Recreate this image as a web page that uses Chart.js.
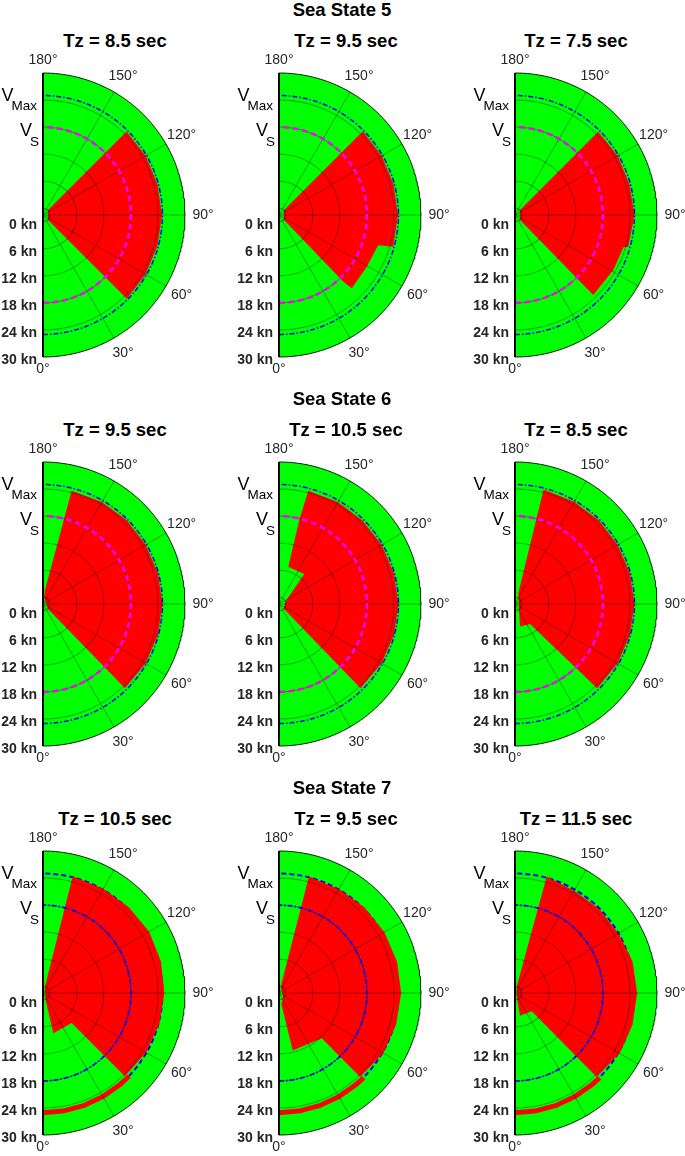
<!DOCTYPE html>
<html>
<head>
<meta charset="utf-8">
<script src="https://cdn.jsdelivr.net/npm/chart.js@4.4.1/dist/chart.umd.min.js"></script>
<style>
  body { margin: 0; background: #fff; width: 685px; height: 1156px; overflow: hidden;
         font-family: "Liberation Sans", Arial, sans-serif; }
  #page { position: relative; width: 685px; height: 1156px; }
  .panel { position: absolute; }
  .title { position: absolute; font-weight: bold; font-size: 18.5px; color: #000;
           transform: translate(-50%, -50%); white-space: nowrap; }
</style>
</head>
<body>
<div id="page"></div>
<script>
// Sea states (rows) and zero-crossing periods (columns)
const seaStates = [5, 6, 7];
const tzValues = [
  [8.5, 9.5, 7.5],
  [9.5, 10.5, 8.5],
  [10.5, 9.5, 11.5]
];
const angleTicks = [0, 30, 60, 90, 120, 150, 180];  // heading, deg
const speedTicks = [0, 6, 12, 18, 24, 30];          // kn
const speedMin = -1.5;
const speedMax = 30;
const vS = [18, 18, 18];     // service speed per sea state, kn
const vMax = [25, 25, 25];   // max speed per sea state, kn

// Unsafe zones (red), per panel a list of polygons of [heading deg, speed kn]
const redSS5 = [
  [[[45,0],[45,24.8],[60,24.8],[75,24.8],[90,24.9],[105,24.8],[120,24.8],[135,24.7],[135,0]]],
  [[[45,0],[44,19],[44.8,21.4],[59,21.1],[73,21.5],[74.5,24.8],[90,24.9],[105,24.8],[120,24.8],[135,24.8],[135,0]]],
  [[[45,0],[44.4,23.3],[60.8,23.5],[73.4,23.6],[74.4,24.6],[90,25],[105,24.8],[120,24.8],[135,24.6],[135,0]]]
];
const redSS6 = [
  [[[45,0],[44.2,24.6],[60,24.8],[75,24.9],[90,25],[105,24.9],[120,24.8],[135,24.8],[150,24.6],[165.8,24.4],[172,1.6],[170,0]]],
  [[[45,0],[44.1,24.5],[60,24.8],[75,24.9],[90,25],[105,24.9],[120,24.8],[135,24.7],[150,24.6],[165.5,24.45],[166.4,17.7],[166,7],[140,7.2],[110,0]]],
  [[[29,0.45],[12.4,3.6],[36.9,4.05],[44.3,24.6],[60,24.8],[75,24.9],[90,25],[105,24.9],[120,24.8],[135,24.8],[150,24.7],[166,24.7],[163,1]]]
];
const redSS7 = [
  [[[20,0.2],[14.5,7.7],[43.7,7.7],[44.5,24.4],[60,24.9],[75,25.2],[90,25.4],[105,25.6],[120,25.7],[135,25.4],[150,25.2],[165.7,25.2],[163,0]],
   [[0,24.5],[10,24.5],[20,24.5],[30,24.5],[40,24.5],[46,24.5],[46,25.6],[40,25.6],[30,25.6],[20,25.6],[10,25.6],[0,25.6]]],
  [[[40,0],[12,1],[13.4,11.6],[43.5,12.3],[44,24.4],[60,25.2],[75,25.4],[90,25.6],[105,25.6],[120,25.5],[135,25.3],[149.4,25.1],[165.6,25.2],[165,0]],
   [[0,24.5],[10,24.5],[20,24.5],[30,24.5],[40,24.5],[45,24.5],[45,25.6],[40,25.6],[30,25.6],[20,25.6],[10,25.6],[0,25.6]]],
  [[[19,0],[12.4,3.65],[42.4,4],[44.2,24.5],[60.3,25.3],[75,25.5],[90,25.6],[105,25.5],[119.2,25],[135,24.9],[149.5,24.7],[164.8,25.3],[165,0]],
   [[0,24.5],[10,24.5],[20,24.5],[30,24.5],[40,24.5],[45,24.5],[45,25.6],[40,25.6],[30,25.6],[20,25.6],[10,25.6],[0,25.6]]]
];
const redZones = [redSS5, redSS6, redSS7];

// layout of the page (px)
const PX = 142 / (speedMax - speedMin);   // px per kn
const CX = 43, CY = 215;                  // polar origin inside each panel
const PANEL_W = 236, PANEL_H = 389;
const titleX = [115, 346, 576];

function toXY(deg, kn) {
  const R = kn - speedMin;
  const a = deg * Math.PI / 180;
  return { x: R * Math.sin(a), y: -R * Math.cos(a) };
}
function arc(kn, from, to) {
  const pts = [];
  for (let a = from; a <= to; a += 1) pts.push(toXY(a, kn));
  return pts;
}
function line(data, color, width, dash) {
  return { data, showLine: true, fill: false, borderColor: color, borderWidth: width,
           borderDash: dash || [], pointRadius: 0, tension: 0 };
}
function shape(data, color) {
  return { data, showLine: true, fill: 'shape', backgroundColor: color,
           borderColor: 'rgba(0,0,0,0)', borderWidth: 0, pointRadius: 0, tension: 0 };
}

const labelPlugin = {
  id: 'polarLabels',
  afterDraw(chart) {
    const { ctx, scales: { x, y } } = chart;
    const px = p => [x.getPixelForValue(p.x), y.getPixelForValue(p.y)];
    const [ox, oy] = px({ x: 0, y: 0 });
    const row = chart.options.plugins.polarLabels.row;
    ctx.save();
    ctx.fillStyle = '#262626';
    ctx.textBaseline = 'middle';
    ctx.textAlign = 'center';
    ctx.font = '14px "Liberation Sans", Arial, sans-serif';
    angleTicks.forEach(a => {
      const r = (a === 0 || a === 180) ? 32.8 : 34;
      const [lx, ly] = px(toXY(a, r));
      ctx.fillText(a + '°', lx, ly);
    });
    ctx.textAlign = 'right';
    ctx.font = 'bold 14px "Liberation Sans", Arial, sans-serif';
    speedTicks.forEach(s => {
      const ly = y.getPixelForValue(-(s - speedMin)) + 3;
      ctx.fillText(s + ' kn', ox - 6, ly);
    });
    // speed markers on the left
    ctx.fillStyle = '#000';
    const yMax = y.getPixelForValue(vMax[row] - speedMin);
    ctx.font = '13.5px "Liberation Sans", Arial, sans-serif';
    const wMax = ctx.measureText('Max').width;
    ctx.fillText('Max', ox - 6, yMax + 11);
    ctx.font = '18px "Liberation Sans", Arial, sans-serif';
    ctx.fillText('V', ox - 6 - wMax + 2, yMax);
    const ys = y.getPixelForValue(vS[row] - speedMin);
    ctx.font = '13.5px "Liberation Sans", Arial, sans-serif';
    const wS = ctx.measureText('S').width;
    ctx.fillText('S', ox - 4, ys + 15);
    ctx.font = '18px "Liberation Sans", Arial, sans-serif';
    ctx.fillText('V', ox - 4 - wS + 2, ys + 4);
    ctx.restore();
  }
};

const page = document.getElementById('page');

seaStates.forEach((ss, row) => {
  const t = document.createElement('div');
  t.className = 'title';
  t.style.left = '342px';
  t.style.top = (10 + row * PANEL_H) + 'px';
  t.textContent = 'Sea State ' + ss;
  page.appendChild(t);

  tzValues[row].forEach((tz, col) => {
    const tt = document.createElement('div');
    tt.className = 'title';
    tt.style.left = titleX[col] + 'px';
    tt.style.top = (41 + row * PANEL_H) + 'px';
    tt.textContent = 'Tz = ' + tz + ' sec';
    page.appendChild(tt);

    const left = col * PANEL_W, top = row * PANEL_H;
    const w = Math.min(PANEL_W, 685 - left), h = Math.min(PANEL_H, 1156 - top);
    const cv = document.createElement('canvas');
    cv.className = 'panel';
    cv.width = w; cv.height = h;
    cv.style.left = left + 'px'; cv.style.top = top + 'px';
    cv.style.width = w + 'px'; cv.style.height = h + 'px';
    page.appendChild(cv);

    const sevenStyle = row === 2;
    const ds = [];
    // safe background half disc
    ds.push(shape([toXY(0, speedMin)].concat(arc(speedMax, 0, 180)), '#00ff00'));
    if (sevenStyle) ds.push(line(arc(vMax[row], 0, 180), '#0000ff', 2, [5, 3]));
    redZones[row][col].forEach(poly => {
      const pts = poly.map(p => toXY(p[0], p[1]));
      pts.push(pts[0]);
      ds.push(shape(pts, '#ff0000'));
    });
    // grid
    speedTicks.slice(0, -1).forEach(s => ds.push(line(arc(s, 0, 180), 'rgba(0,0,0,0.5)', 0.7)));
    angleTicks.forEach(a => ds.push(line([toXY(a, speedMin), toXY(a, speedMax)], 'rgba(0,0,0,0.5)', 0.7)));
    // speed lines
    if (sevenStyle) {
      ds.push(line(arc(vS[row], 0, 180), '#0000ff', 1.8, [5, 2, 1.5, 2]));
    } else {
      ds.push(line(arc(vS[row], 0, 180), '#ff00ff', 2.5, [6, 3.5]));
      ds.push(line(arc(vMax[row], 0, 180), '#0000ff', 1.5, [5, 2, 1.5, 2]));
    }
    // axes outline
    ds.push(line(arc(speedMax, 0, 180), '#000', 0.9));
    ds.push(line([toXY(180, speedMax), toXY(0, speedMax)], '#000', 2));
    ds.forEach((d, i) => { d.order = ds.length - i; });

    new Chart(cv.getContext('2d'), {
      type: 'scatter',
      data: { datasets: ds },
      options: {
        responsive: false,
        animation: false,
        devicePixelRatio: 1,
        events: [],
        layout: { padding: 0 },
        scales: {
          x: { type: 'linear', display: false, min: -CX / PX, max: (w - CX) / PX },
          y: { type: 'linear', display: false, min: -(h - CY) / PX, max: CY / PX }
        },
        plugins: {
          legend: { display: false },
          tooltip: { enabled: false },
          filler: { propagate: false },
          polarLabels: { row }
        }
      },
      plugins: [labelPlugin]
    });
  });
});
</script>
</body>
</html>
